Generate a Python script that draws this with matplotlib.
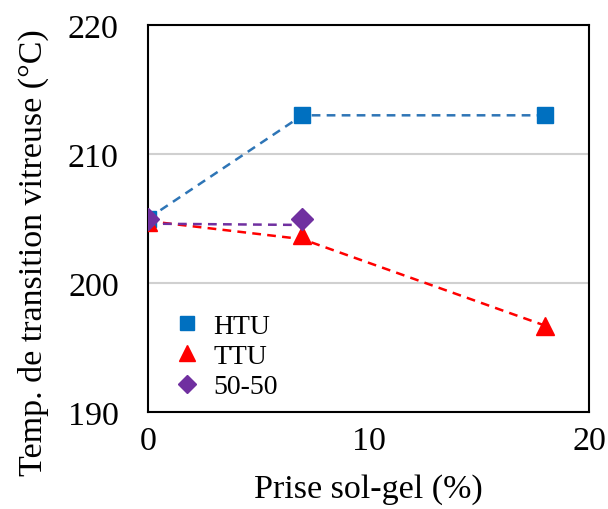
import matplotlib
matplotlib.use("Agg")
import matplotlib.pyplot as plt

plt.rcParams['font.family'] = ['Liberation Serif', 'DejaVu Serif']

x_htu = [0, 7, 18]
y_htu = [205.0, 213.0, 213.0]
x_ttu = [0, 7, 18]
y_ttu = [204.7, 203.7, 196.7]
x_5050 = [0, 7]
y_5050 = [205.0, 205.0]

# dashed connecting lines as drawn in the reference
line_htu = [205.0, 213.0, 213.0]
line_ttu = [204.8, 203.4, 196.7]
line_5050 = [204.6, 204.5]

c_htu = '#0070C0'
c_htu_line = '#2E75B6'
c_ttu = '#FF0000'
c_5050 = '#7030A0'

fig = plt.figure(figsize=(6.08, 5.10), dpi=100)
ax = fig.add_axes([0.2434, 0.1902, 0.7254, 0.7588])

ax.plot(x_htu, line_htu, ls=(0, (3.5, 2.5)), color=c_htu_line, lw=1.8, zorder=2)
ax.plot(x_ttu, line_ttu, ls=(0, (3.5, 2.5)), color=c_ttu, lw=1.8, zorder=2)
ax.plot(x_5050, line_5050, ls=(0, (3.5, 2.5)), color=c_5050, lw=1.8, zorder=2)

ax.plot(x_htu, y_htu, ls='none', marker='s', ms=12, color=c_htu, label='HTU', zorder=3)
ax.plot(x_ttu, y_ttu, ls='none', marker='^', ms=13, color=c_ttu, label='TTU', zorder=3)
ax.plot(x_5050, y_5050, ls='none', marker='D', ms=11, color=c_5050, label='50-50', zorder=4)

ax.set_xlim(0, 20)
ax.set_ylim(190, 220)
ax.set_xticks([0, 10, 20])
ax.set_yticks([190, 200, 210, 220])
ax.yaxis.grid(True, color='#D0D0D0', lw=1.5)
ax.set_axisbelow(True)
ax.tick_params(length=0, labelsize=24.5)
ax.tick_params(axis='y', pad=21)
ax.tick_params(axis='x', pad=10)
for s in ax.spines.values():
    s.set_linewidth(1.5)
    s.set_color('black')

ax.set_xlabel('Prise sol-gel (%)', fontsize=24.5, labelpad=12)
ax.set_ylabel('Temp. de transition vitreuse (°C)', fontsize=24.5, labelpad=14)
ax.yaxis.label.set_y(0.415)

leg = ax.legend(loc='upper left', bbox_to_anchor=(-0.015, 0.32), frameon=False,
                fontsize=20, handletextpad=0.2, labelspacing=0.18, handlelength=1.5,
                markerscale=0.85)

fig.savefig('out.png', dpi=100)
